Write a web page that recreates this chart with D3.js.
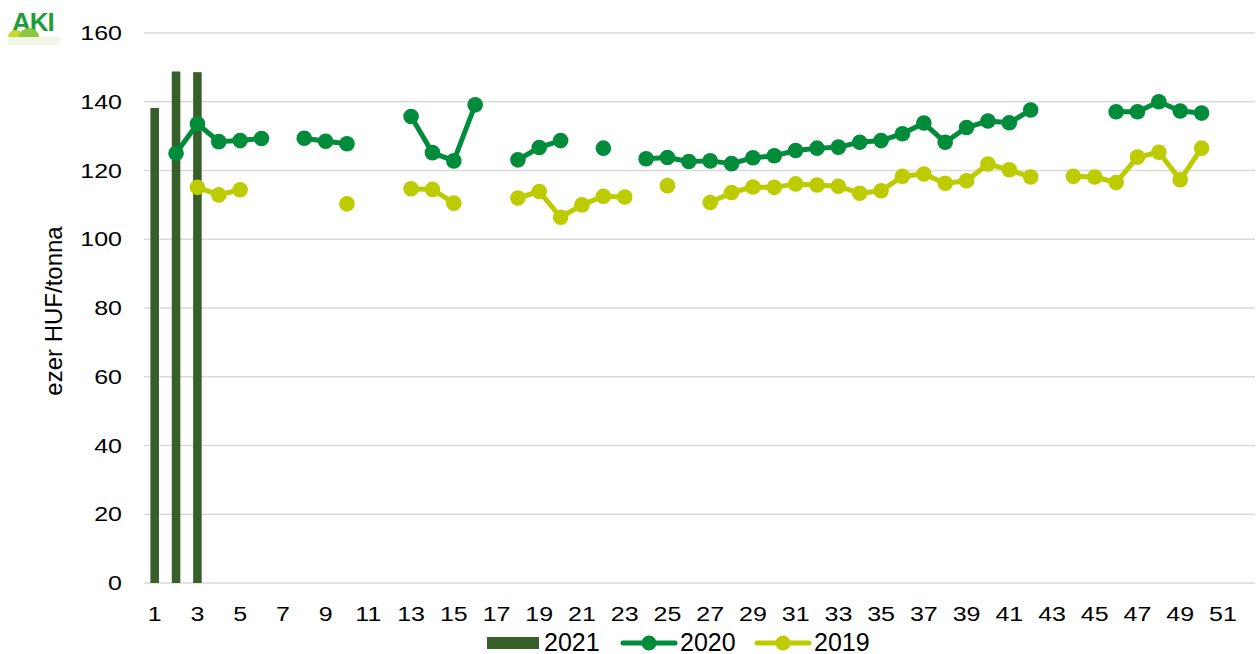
<!DOCTYPE html>
<html>
<head>
<meta charset="utf-8">
<script src="https://cdn.jsdelivr.net/npm/d3@7"></script>
<style>
  body { margin: 0; background: #fff; }
  text { font-family: "Liberation Sans", Arial, sans-serif; }
</style>
</head>
<body>
<div id="chart"></div>
<script>
// weeks 1..52
const weeks = d3.range(1, 53);
const yTicks = [0, 20, 40, 60, 80, 100, 120, 140, 160];

// 2021 bars
const bars2021 = [138.2, 148.8, 148.6];

// 2020 weekly prices (null = no data)
const s2020 = [null, 125.0, 133.6, 128.4, 128.7, 129.3, null, 129.4, 128.5, 127.8,
  null, null, 135.7, 125.2, 122.8, 139.1, null, 123.1, 126.7, 128.7,
  null, 126.5, null, 123.4, 123.8, 122.6, 122.8, 122.0, 123.7, 124.3,
  125.8, 126.5, 126.8, 128.2, 128.7, 130.7, 133.8, 128.2, 132.5, 134.4,
  133.9, 137.6, null, null, null, 137.1, 137.1, 140.0, 137.3, 136.7];

// 2019 weekly prices
const s2019 = [null, null, 115.1, 112.9, 114.4, null, null, null, null, 110.3,
  null, null, 114.7, 114.5, 110.5, null, null, 112.0, 113.9, 106.4,
  110.0, 112.5, 112.3, null, 115.6, null, 110.7, 113.6, 115.2, 115.1,
  116.1, 115.8, 115.4, 113.4, 114.1, 118.3, 119.0, 116.3, 117.0, 121.9,
  120.2, 118.1, null, 118.3, 118.1, 116.5, 123.9, 125.3, 117.3, 126.5];

const colors = { y2021: "#365F2A", y2020: "#008C3A", y2019: "#BDCC00" };

const W = 1259, H = 654;
const margin = { top: 33, right: 4, bottom: 71, left: 144 };
const width = W - margin.left - margin.right;
const height = H - margin.top - margin.bottom;

const svg = d3.select("#chart").append("svg")
  .attr("width", W).attr("height", H);

// logo
const logo = svg.append("g");
logo.append("text").attr("x", 12).attr("y", 31)
  .style("font-size", "26px").style("font-weight", "bold")
  .attr("fill", "#1E9E3A").attr("letter-spacing", "-1").text("AKI");
logo.append("path").attr("d", "M8,37 A8,7 0 0 1 24,37 Z").attr("fill", "#C4D82E");
logo.append("path").attr("d", "M19,37 A10,9 0 0 1 39,37 Z").attr("fill", "#8CC63F");
logo.append("rect").attr("x", 8).attr("y", 37).attr("width", 52).attr("height", 8)
  .attr("fill", "#E6F2D6").attr("opacity", 0.6);

const g = svg.append("g").attr("transform", `translate(${margin.left},${margin.top})`);

const x = d3.scaleBand().domain(weeks).range([0, width]).paddingInner(0.6).paddingOuter(0.3);
const xc = d => x(d) + x.bandwidth() / 2;
const y = d3.scaleLinear().domain([0, 160]).range([height, 0]);

// gridlines
g.append("g").selectAll("line").data(yTicks).enter().append("line")
  .attr("x1", 0).attr("x2", width)
  .attr("y1", d => y(d)).attr("y2", d => y(d))
  .attr("stroke", "#D9D9D9").attr("stroke-width", 1.5);

// y labels (text in reference is wide, so stretch horizontally)
g.append("g").selectAll("text").data(yTicks).enter().append("text")
  .attr("transform", d => `translate(-22,${y(d)}) scale(1.25,1)`)
  .attr("dy", "0.35em")
  .attr("text-anchor", "end").style("font-size", "20px").attr("fill", "#000")
  .text(d => d);

// x labels (odd weeks)
g.append("g").selectAll("text").data(weeks.filter(w => w % 2 === 1)).enter().append("text")
  .attr("transform", d => `translate(${xc(d)},${height + 38}) scale(1.25,1)`)
  .attr("text-anchor", "middle").style("font-size", "20px").attr("fill", "#000")
  .text(d => d);

// y axis title
svg.append("text")
  .attr("transform", `translate(62,311) rotate(-90)`)
  .attr("text-anchor", "middle").style("font-size", "24px").text("ezer HUF/tonna");

// bars 2021
g.selectAll(".bar").data(bars2021).enter().append("rect")
  .attr("x", (d, i) => x(weeks[i])).attr("width", x.bandwidth())
  .attr("y", d => y(d)).attr("height", d => height - y(d))
  .attr("fill", colors.y2021);

function drawSeries(vals, color) {
  const pts = vals.map((v, i) => ({ w: weeks[i], v }));
  const line = d3.line().defined(d => d.v != null).x(d => xc(d.w)).y(d => y(d.v));
  g.append("path").datum(pts).attr("d", line)
    .attr("fill", "none").attr("stroke", color).attr("stroke-width", 5)
    .attr("stroke-linejoin", "round");
  g.append("g").selectAll("circle").data(pts.filter(d => d.v != null)).enter().append("circle")
    .attr("cx", d => xc(d.w)).attr("cy", d => y(d.v)).attr("r", 7.8)
    .attr("fill", color);
}
drawSeries(s2019, colors.y2019);
drawSeries(s2020, colors.y2020);

// legend
const leg = svg.append("g").attr("transform", "translate(0,643)");
leg.append("rect").attr("x", 487).attr("y", -6).attr("width", 52).attr("height", 12).attr("fill", colors.y2021);
leg.append("text").attr("x", 544).attr("y", 7.5).style("font-size", "25px").text("2021");
[[621, colors.y2020, "2020"], [755, colors.y2019, "2019"]].forEach(([lx, c, t]) => {
  leg.append("line").attr("x1", lx + 2).attr("x2", lx + 54).attr("y1", 0).attr("y2", 0)
    .attr("stroke", c).attr("stroke-width", 5).attr("stroke-linecap", "round");
  leg.append("circle").attr("cx", lx + 28).attr("cy", 0).attr("r", 7.5).attr("fill", c);
  leg.append("text").attr("x", lx + 59).attr("y", 7.5).style("font-size", "25px").text(t);
});
</script>
</body>
</html>
